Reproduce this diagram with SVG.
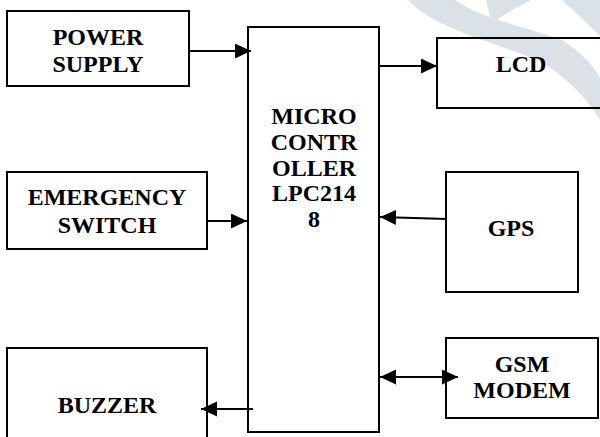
<svg xmlns="http://www.w3.org/2000/svg" width="600" height="437" viewBox="0 0 600 437">
<style>
.box{fill:none;stroke:#000;stroke-width:2}
text{font-family:'Liberation Serif','Times New Roman',serif;font-weight:700;font-size:24px;fill:#000;text-anchor:middle}
.c{stroke:#000;stroke-width:2.2;fill:none}
.wm{fill:#dae2e7}
</style>
<defs>
<marker id="ah" markerUnits="userSpaceOnUse" markerWidth="18" markerHeight="16" refX="16" refY="7.5" orient="auto-start-reverse">
<path d="M0,0 L16,7.5 L0,15 z" fill="#000"/>
</marker>
</defs>
<rect width="600" height="437" fill="#fff"/>
<g id="watermark">
<path class="wm" d="M408 0 L455 0 C475 16 522 26 562 40 C588 56 600 75 606 90 L606 130 C595 110 580 88 545 64 C505 44 438 32 408 0 Z"/>
<path class="wm" d="M562 0 L606 0 L606 42 C590 26 575 12 562 0 Z"/>
<path class="wm" d="M486 0 L531 0 C516 8 501 15 491 26 C490 15 488 8 486 0 Z"/>
</g>
<g id="connectors">
<line class="c" x1="189" y1="51" x2="251" y2="51" marker-end="url(#ah)"/>
<line class="c" x1="207" y1="221" x2="247" y2="221" marker-end="url(#ah)"/>
<line class="c" x1="253" y1="409" x2="201" y2="409" marker-end="url(#ah)"/>
<line class="c" x1="379" y1="66" x2="437" y2="66" marker-end="url(#ah)"/>
<line class="c" x1="447" y1="219" x2="380" y2="217" marker-end="url(#ah)"/>
<line class="c" x1="380" y1="377" x2="458" y2="377" marker-start="url(#ah)" marker-end="url(#ah)"/>
</g>
<g id="power">
<rect class="box" x="7" y="11" width="182" height="75"/>
<text x="98" y="45">POWER</text>
<text x="98" y="72">SUPPLY</text>
</g>
<g id="emergency">
<rect class="box" x="7" y="172" width="200" height="77"/>
<text x="107" y="205">EMERGENCY</text>
<text x="107" y="233">SWITCH</text>
</g>
<g id="buzzer">
<rect class="box" x="7" y="348" width="200" height="100"/>
<text x="107" y="413">BUZZER</text>
</g>
<g id="micro">
<rect class="box" x="248" y="27" width="131" height="405"/>
<text x="314" y="124">MICRO</text>
<text x="314" y="150">CONTR</text>
<text x="314" y="176">OLLER</text>
<text x="314" y="201">LPC214</text>
<text x="314" y="227">8</text>
</g>
<g id="lcd">
<rect class="box" x="437" y="38" width="170" height="70"/>
<text x="521" y="72">LCD</text>
</g>
<g id="gps">
<rect class="box" x="446" y="172" width="132" height="120"/>
<text x="511" y="236">GPS</text>
</g>
<g id="gsm">
<rect class="box" x="446" y="338" width="152" height="80"/>
<text x="522" y="372">GSM</text>
<text x="522" y="398">MODEM</text>
</g>
</svg>
